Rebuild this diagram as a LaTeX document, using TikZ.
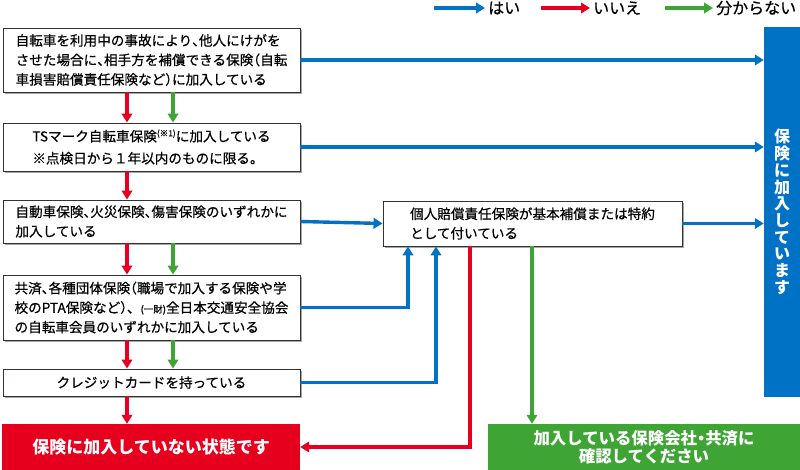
\documentclass[tikz,border=0pt]{standalone}
\usepackage{fontspec}
\setmainfont{Noto Sans CJK JP}
\newfontfamily\medfont[FakeBold=0.5]{Noto Sans CJK JP}
\newfontfamily\haltfont[RawFeature=+halt,FakeBold=0.5]{Noto Sans CJK JP}
\newcommand\hw[1]{{\haltfont #1}}
\usetikzlibrary{arrows.meta,shadows,calc}
\definecolor{cblue}{RGB}{0,114,198}
\definecolor{cred}{RGB}{230,0,30}
\definecolor{cgreen}{RGB}{62,165,53}
\definecolor{cedge}{RGB}{55,50,45}
\begin{document}
\begin{tikzpicture}[x=1pt,y=-1pt,
  qbox/.style={draw=cedge, line width=0.9pt, fill=white, minimum width=297pt,
    inner sep=0pt, align=left, font=\medfont\fontsize{13.6}{19.5}\selectfont,
    drop shadow={shadow xshift=1.8pt, shadow yshift=-1.8pt, fill=black, opacity=0.35}},
  endbox/.style={fill=#1, draw=none, inner sep=0pt, align=center, text=white,
    font=\bfseries\fontsize{17}{18}\selectfont},
  yesar/.style={cblue, line width=3.4pt, -{Triangle[length=9pt,width=10.5pt]}},
  noar/.style={cred, line width=3.4pt, line join=miter, -{Triangle[length=9pt,width=10.5pt]}},
  unkar/.style={cgreen, line width=3.4pt, -{Triangle[length=9pt,width=10.5pt]}},
  legtext/.style={anchor=west, inner sep=3pt, font=\medfont\fontsize{16}{16}\selectfont}
]
\useasboundingbox (0,0) rectangle (800,470);

% legend
\coordinate (l1) at (434,8);
\coordinate (l2) at (541,8);
\coordinate (l3) at (665,8);
\node[legtext] (t1) at (485,8) {はい};
\node[legtext] (t2) at (590,8) {いいえ};
\node[legtext] (t3) at (713,8) {分からない};
\draw[yesar] (l1) -- (t1.west);
\draw[noar] (l2) -- (t2.west);
\draw[unkar] (l3) -- (t3.west);

% question boxes
\node[qbox, minimum height=64pt] (b1) at (151.5,60)
  {自転車を利用中の事故により\hw{、}他人にけがを\\させた場合に\hw{、}相手方を補償できる保険\hw{（}自転\\車損害賠償責任保険など\hw{）}に加入している};
\node[qbox, minimum height=48pt, font=\medfont\fontsize{13.6}{22}\selectfont] (b2) at (151.5,147)
  {TSマーク自転車保険\raisebox{5pt}{\fontsize{8.5}{8.5}\selectfont(※1)}に加入している\\※点検日から１年以内のものに限る。};
\node[qbox, minimum height=43pt] (b3) at (151.5,221.5)
  {自動車保険\hw{、}火災保険\hw{、}傷害保険のいずれかに\\加入している};
\node[qbox, minimum height=45pt, minimum width=299pt] (b4) at (532.5,223.5)
  {個人賠償責任保険が基本補償または特約\\として付いている};
\node[qbox, minimum height=65pt] (b5) at (151.5,307.5)
  {共済\hw{、}各種団体保険\hw{（}職場で加入する保険や学\\校のPTA保険など\hw{）}、{\fontsize{9.5}{9.5}\selectfont(一財)}全日本交通安全協会\\の自転車会員のいずれかに加入している};
\node[qbox, minimum height=27pt, align=center] (b6) at (151.5,382.5)
  {クレジットカードを持っている};

% result boxes
\node[endbox=cred, minimum width=298pt, minimum height=46pt] (no) at (151,447)
  {保険に加入していない状態です};
\node[endbox=cgreen, minimum width=312pt, minimum height=46pt,
  font=\bfseries\fontsize{16.4}{18}\selectfont] (ask) at (644,447)
  {加入している保険会社{\haltfont\bfseries ・}共済に\\確認してください};
\node[endbox=cblue, minimum width=36pt, minimum height=370pt,
  font=\bfseries\fontsize{16}{16.7}\selectfont] (yes) at (782,212)
  {保\\険\\に\\加\\入\\し\\て\\い\\ま\\す};

% helper columns
\coordinate (rx) at (127,0);
\coordinate (gx) at (173,0);
\coordinate (ux1) at (408,0);
\coordinate (ux2) at (436,0);
\coordinate (rx2) at (470,0);
\coordinate (gx2) at (532,0);

% yes arrows
\draw[yesar] (b1.east) -- (b1.east -| yes.west);
\draw[yesar] (b2.east) -- (b2.east -| yes.west);
\draw[yesar] (b3.east) -- (b4.west);
\draw[yesar] (b4.east) -- (b4.east -| yes.west);
\draw[yesar] (b5.east) -| (b4.south -| ux1);
\draw[yesar] (b6.east) -| (b4.south -| ux2);

% no arrows
\draw[noar] (b1.south -| rx) -- (b2.north -| rx);
\draw[noar] (b2.south -| rx) -- (b3.north -| rx);
\draw[noar] (b3.south -| rx) -- (b5.north -| rx);
\draw[noar] (b5.south -| rx) -- (b6.north -| rx);
\draw[noar] (b6.south -| rx) -- (no.north -| rx);
\draw[noar] (b4.south -| rx2) |- (no.east);

% unknown arrows
\draw[unkar] (b1.south -| gx) -- (b2.north -| gx);
\draw[unkar] (b3.south -| gx) -- (b5.north -| gx);
\draw[unkar] (b5.south -| gx) -- (b6.north -| gx);
\draw[unkar] (b4.south -| gx2) -- (ask.north -| gx2);
\end{tikzpicture}
\end{document}
